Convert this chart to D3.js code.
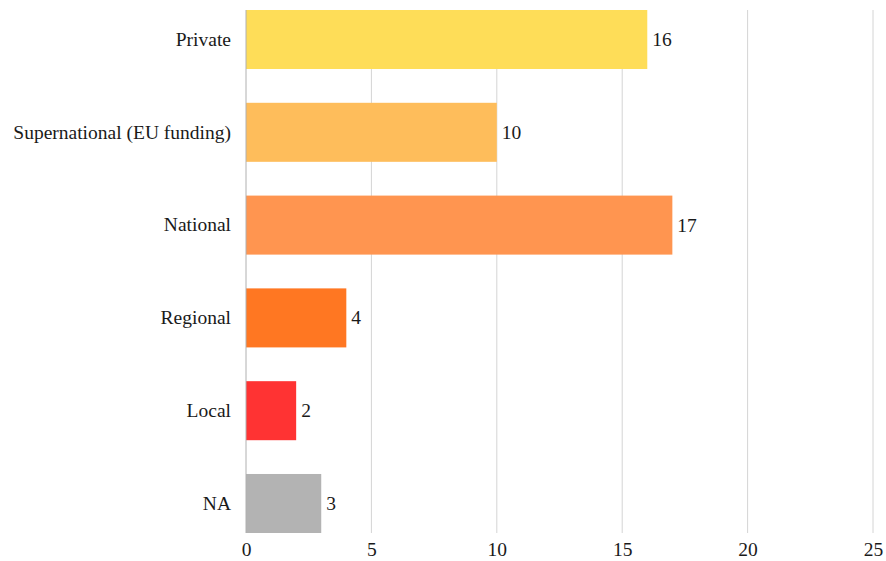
<!DOCTYPE html>
<html>
<head>
<meta charset="utf-8">
<script src="https://cdn.jsdelivr.net/npm/d3@7"></script>
<style>
  html, body { margin: 0; padding: 0; background: #fff; }
  svg text { font-family: "Liberation Serif", "Times New Roman", serif; fill: #1a1a1a; }
</style>
</head>
<body>
<svg id="chart" width="886" height="561"></svg>
<script>
// Funding sources and their counts
const categories = ["Private", "Supernational (EU funding)", "National", "Regional", "Local", "NA"];
const counts = [16, 10, 17, 4, 2, 3];
const barColors = ["#FEDD58", "#FEBD5B", "#FF9550", "#FF7722", "#FF3333", "#B3B3B3"];
const xTicks = [0, 5, 10, 15, 20, 25];

(function () {
  const svg = d3.select("#chart");
  const plotLeft = 246, plotRight = 873, plotTop = 10, plotBottom = 533;
  const fontSize = 19.5;
  const serif = "'Liberation Serif', 'Times New Roman', serif";

  const x = d3.scaleLinear().domain([0, 25]).range([plotLeft, plotRight]);
  const y = d3.scaleBand().domain(categories).range([plotTop, plotBottom])
    .paddingInner(0.364).paddingOuter(0);

  // vertical gridlines
  svg.append("g").selectAll("line").data(xTicks.slice(1)).join("line")
    .attr("x1", d => x(d)).attr("x2", d => x(d))
    .attr("y1", plotTop).attr("y2", plotBottom)
    .attr("stroke", "#d4d4d4").attr("stroke-width", 1);

  // bars
  svg.append("g").selectAll("rect").data(categories).join("rect")
    .attr("x", x(0))
    .attr("y", d => y(d))
    .attr("width", (d, i) => x(counts[i]) - x(0))
    .attr("height", y.bandwidth())
    .attr("fill", (d, i) => barColors[i]);

  // zero baseline
  svg.append("line")
    .attr("x1", x(0)).attr("x2", x(0)).attr("y1", plotTop).attr("y2", plotBottom)
    .attr("stroke", "#b0b0b0").attr("stroke-width", 1);

  // value labels
  svg.append("g").selectAll("text").data(categories).join("text")
    .attr("x", (d, i) => x(counts[i]) + 5)
    .attr("y", d => y(d) + y.bandwidth() / 2)
    .attr("dy", "0.33em")
    .attr("font-size", fontSize)
    .attr("font-family", serif)
    .text((d, i) => counts[i]);

  // category axis
  const yAxis = svg.append("g").attr("transform", `translate(${plotLeft},0)`)
    .call(d3.axisLeft(y).tickSize(0).tickPadding(15));
  yAxis.select(".domain").remove();
  yAxis.selectAll("text").attr("font-size", fontSize).attr("fill", "#1a1a1a")
    .attr("font-family", serif);

  // value axis
  const xAxis = svg.append("g").attr("transform", `translate(0,${plotBottom})`)
    .call(d3.axisBottom(x).tickValues(xTicks).tickSize(0).tickPadding(9));
  xAxis.select(".domain").remove();
  xAxis.selectAll("text").attr("font-size", fontSize).attr("fill", "#1a1a1a")
    .attr("font-family", serif);
})();
</script>
</body>
</html>
